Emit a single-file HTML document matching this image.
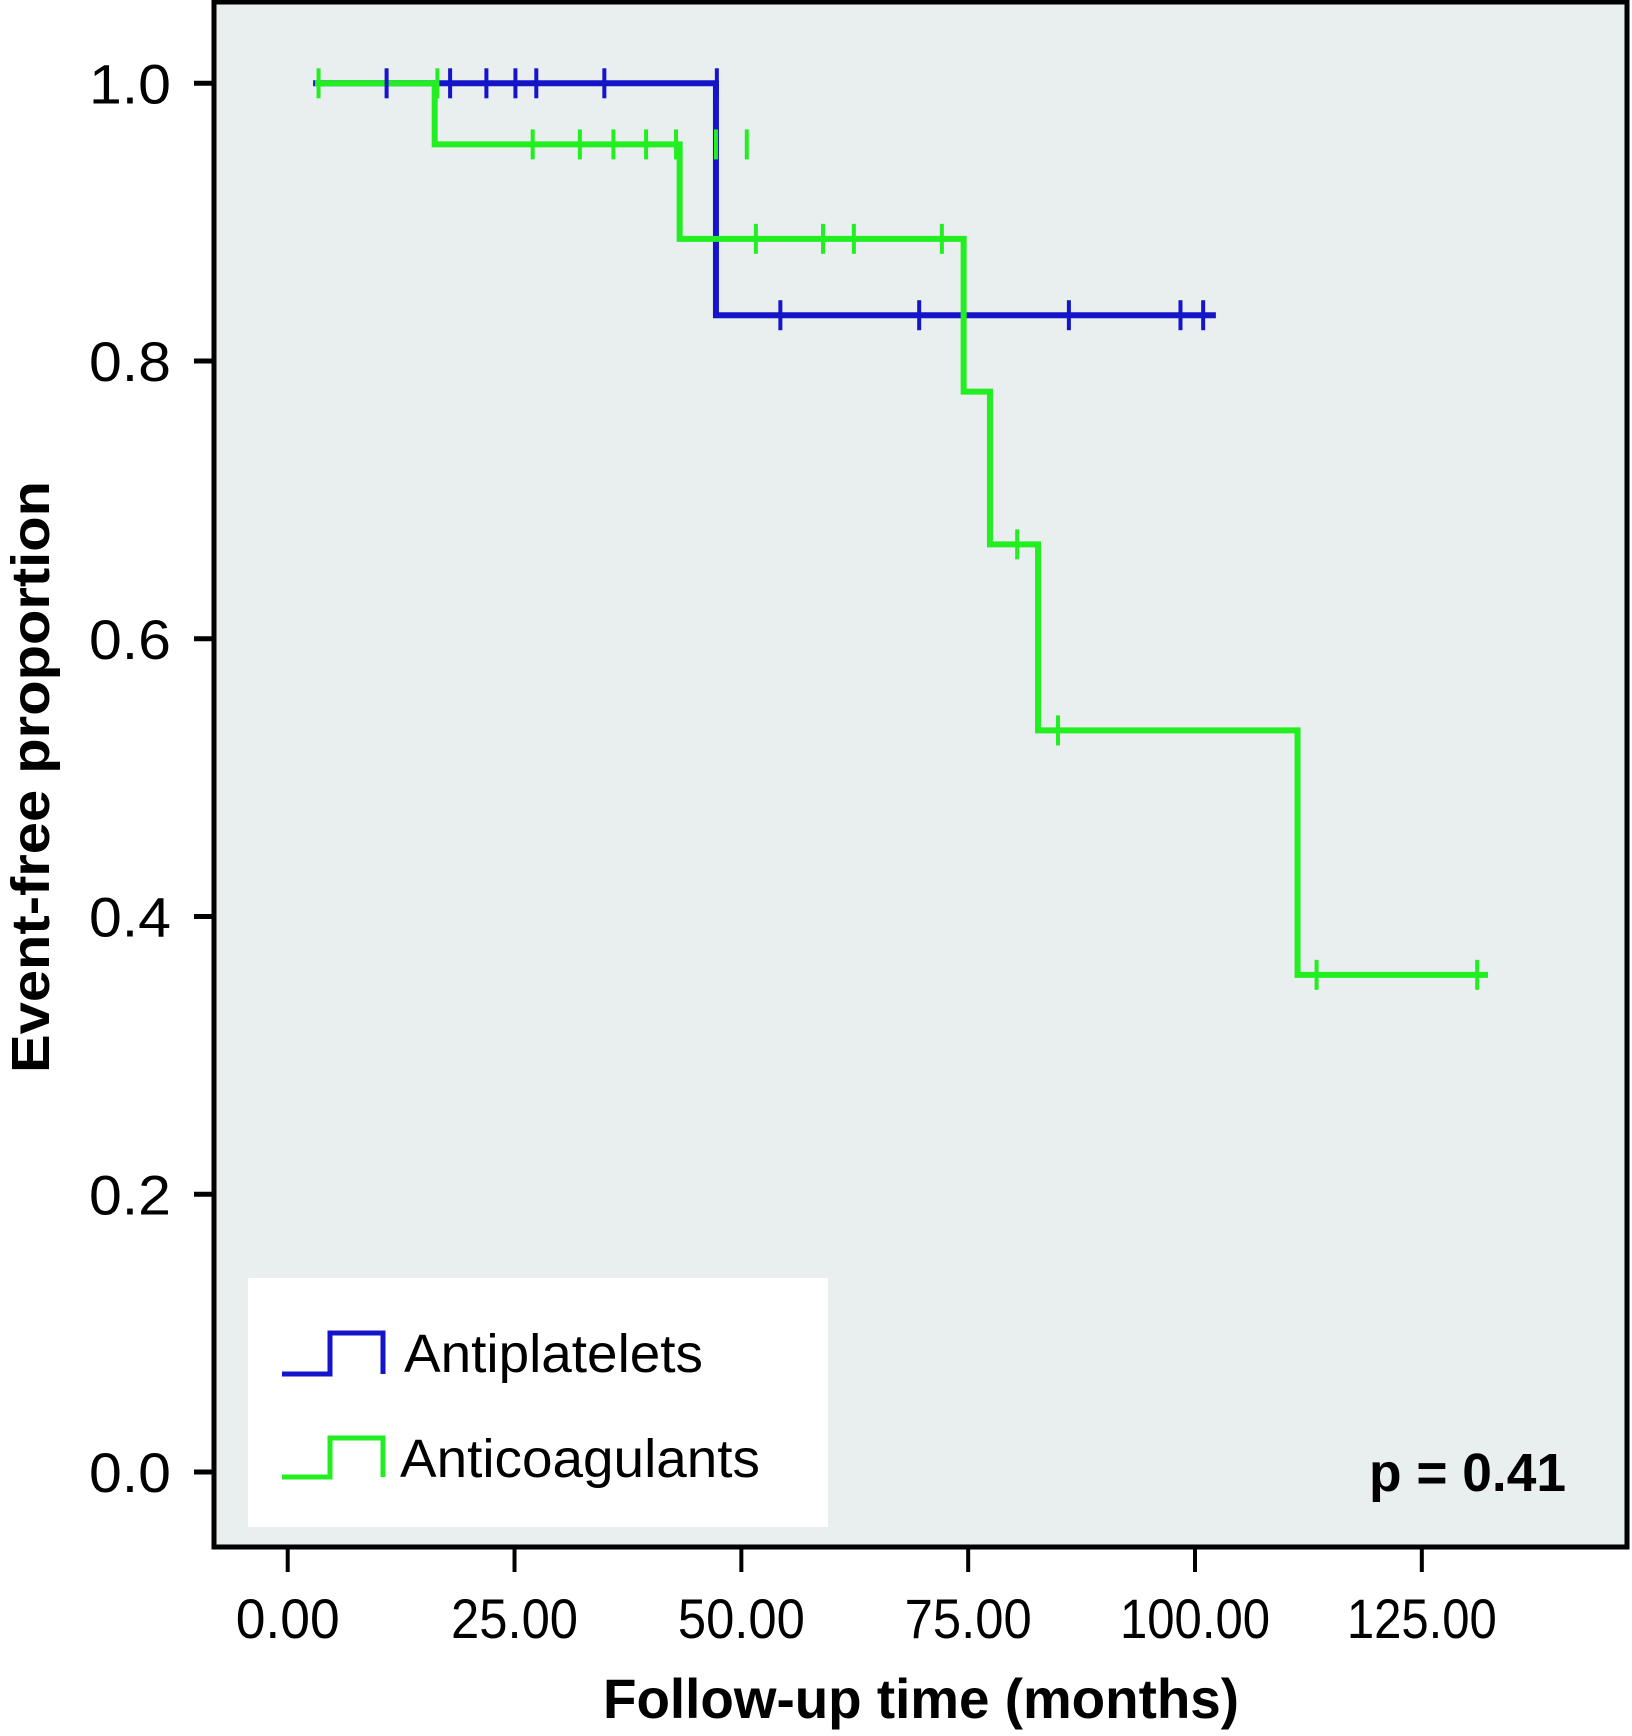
<!DOCTYPE html>
<html><head><meta charset="utf-8"><style>
html,body{margin:0;padding:0;background:#fff;}
svg{display:block;font-family:"Liberation Sans",sans-serif;}
</style></head><body>
<svg id="chart" width="1632" height="1736" viewBox="0 0 1632 1736">
<rect x="214" y="2" width="1413" height="1545" fill="#e9eeee" stroke="#000" stroke-width="5"/>
<g id="axes"></g>
<g id="series"></g>
<rect x="248" y="1278" width="580" height="249" fill="#fff"/>
<g>
<path d="M282 1374 H330 V1333 H383 V1374" fill="none" stroke="#1414c8" stroke-width="5"/>
<text x="404" y="1372" font-size="54" textLength="299" lengthAdjust="spacingAndGlyphs">Antiplatelets</text>
</g>
<g>
<path d="M282 1477 H330 V1438 H383 V1477" fill="none" stroke="#22ee22" stroke-width="5"/>
<text x="400" y="1477" font-size="54" textLength="360" lengthAdjust="spacingAndGlyphs">Anticoagulants</text>
</g>
<text x="1369" y="1491" font-size="54" font-weight="bold" textLength="197" lengthAdjust="spacingAndGlyphs">p = 0.41</text>
<text x="603" y="1718" font-size="56" font-weight="bold" textLength="636" lengthAdjust="spacingAndGlyphs">Follow-up time (months)</text>
<text transform="translate(49,1073) rotate(-90)" font-size="54" font-weight="bold" textLength="592" lengthAdjust="spacingAndGlyphs">Event-free proportion</text>
</svg>
<script>
const xTicks = [0, 25, 50, 75, 100, 125];
const xTickLabels = ["0.00", "25.00", "50.00", "75.00", "100.00", "125.00"];
const yTicks = [0, 0.2, 0.4, 0.6, 0.8, 1.0];
const yTickLabels = ["0.0", "0.2", "0.4", "0.6", "0.8", "1.0"];
const blueTimes = [2.8, 47.2, 102.3];
const blueSurv = [1.0, 0.833, 0.833];
const blueCensor = [10.9, 17.9, 21.9, 25.1, 27.4, 34.9, 47.3];
const blueCensor2 = [54.3, 69.6, 86.1, 98.4, 100.9];
const greenTimes = [3.0, 16.2, 43.2, 74.5, 77.4, 82.7, 111.3, 132.3];
const greenSurv = [1.0, 0.956, 0.888, 0.778, 0.668, 0.534, 0.358, 0.358];
const greenCensorT = [3.4, 16.5, 27.0, 32.2, 35.9, 39.5, 42.8, 47.2, 50.6, 51.6, 59.0, 62.4, 72.1, 80.4, 84.9, 113.4, 131.1];
const greenCensorS = [1.0, 1.0, 0.956, 0.956, 0.956, 0.956, 0.956, 0.956, 0.956, 0.888, 0.888, 0.888, 0.888, 0.668, 0.534, 0.358, 0.358];

const NS = "http://www.w3.org/2000/svg";
function x(m){ return 287.7 + m * 9.073; }
function y(v){ return 1472 - v * 1388.7; }
function mk(tag, attrs, parent){ const e = document.createElementNS(NS, tag); for (const k in attrs) e.setAttribute(k, attrs[k]); parent.appendChild(e); return e; }
const axes = document.getElementById('axes');
const series = document.getElementById('series');

xTicks.forEach((t, i) => {
  const l = mk('line', {x1: x(t), x2: x(t), y1: 1549, y2: 1572, stroke: '#000', 'stroke-width': 4}, axes);
  
  
  const tx = mk('text', {x: x(t), y: 1638, 'font-size': 56, 'text-anchor': 'middle', textLength: xTickLabels[i].length * 23 + 12, lengthAdjust: 'spacingAndGlyphs'}, axes);
  tx.textContent = xTickLabels[i];
  
  
});
yTicks.forEach((t, i) => {
  const l = mk('line', {x1: 194, x2: 214, y1: y(t), y2: y(t), stroke: '#000', 'stroke-width': 5}, axes);
  
  
  const tx = mk('text', {x: 171, y: y(t) + 20, 'font-size': 56, 'text-anchor': 'end', textLength: 82, lengthAdjust: 'spacingAndGlyphs'}, axes);
  tx.textContent = yTickLabels[i];
  
  
});

function stepPath(ts, ss){
  let d = 'M' + x(ts[0]) + ' ' + y(ss[0]);
  for (let i = 1; i < ts.length; i++) d += ' H' + x(ts[i]) + ' V' + y(ss[i]);
  return d;
}
const bp = mk('path', {d: stepPath(blueTimes, blueSurv), fill: 'none', stroke: '#1414c8', 'stroke-width': 6}, series);


const gp = mk('path', {d: stepPath(greenTimes, greenSurv), fill: 'none', stroke: '#22ee22', 'stroke-width': 6}, series);



function censor(t, s, col){
  const l = mk('line', {x1: x(t), x2: x(t), y1: y(s) - 15, y2: y(s) + 15, stroke: col, 'stroke-width': 4}, series);
  
  
}
blueCensor.forEach(t => censor(t, blueSurv[0], '#1414c8'));
blueCensor2.forEach(t => censor(t, blueSurv[1], '#1414c8'));
greenCensorT.forEach((t, i) => censor(t, greenCensorS[i], '#22ee22'));
</script>
</body></html>
